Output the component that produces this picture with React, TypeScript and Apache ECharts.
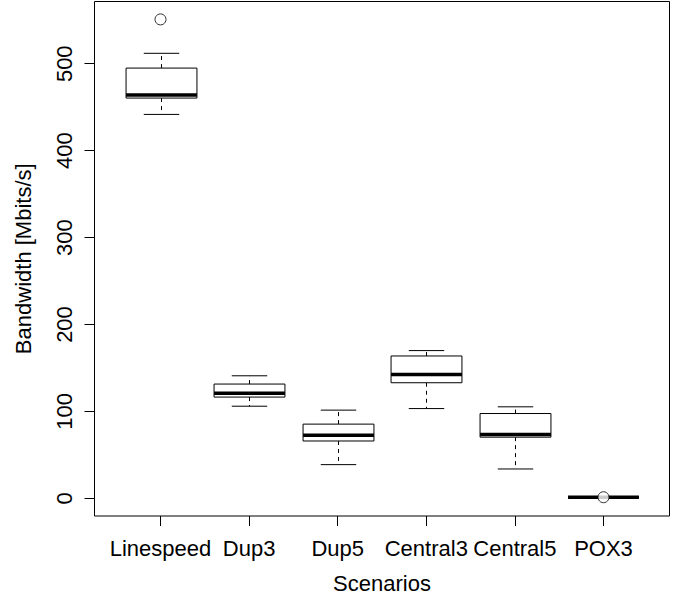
import React, { useEffect, useRef } from "react";
import * as echarts from "echarts";

const categories = ["Linespeed", "Dup3", "Dup5", "Central3", "Central5", "POX3"];
// [lower whisker, Q1, median, Q3, upper whisker]
const lowerWhisker = [441.7, 106, 38.8, 103.3, 33.8, 1.0];
const q1 = [460.5, 116.5, 66, 133, 70.4, 1.2];
const median = [464, 121, 72.7, 142.6, 73.4, 1.2];
const q3 = [495, 131.5, 85.4, 163.8, 97.6, 1.3];
const upperWhisker = [512, 141, 101.5, 170, 105.3, 1.4];
const outlierCategory = [0, 5];
const outlierValue = [551, 1.3];
const yTicks = [0, 100, 200, 300, 400, 500];

const FONT = "'Liberation Sans', Arial, Helvetica, sans-serif";

export default function App() {
  const ref = useRef<HTMLDivElement>(null);
  useEffect(() => {
    if (!ref.current) return;
    const chart = echarts.init(ref.current, null, { renderer: "svg" });
    const boxData = categories.map((_, i) => [
      i,
      lowerWhisker[i],
      q1[i],
      median[i],
      q3[i],
      upperWhisker[i],
    ]);
    const outliers = outlierCategory.map((c, i) => [c, outlierValue[i]]);
    chart.setOption({
      animation: false,
      backgroundColor: "#fff",
      textStyle: { fontFamily: FONT },
      grid: { left: 116.2, right: 26.2, top: 1.5, bottom: 84 },
      xAxis: {
        type: "category",
        data: categories,
        name: "Scenarios",
        nameLocation: "middle",
        nameGap: 56,
        nameTextStyle: { fontSize: 22, color: "#000", fontFamily: FONT },
        axisLine: { show: false, onZero: false },
        axisTick: { show: true, alignWithLabel: true, length: 10, lineStyle: { color: "#000", width: 1 } },
        axisLabel: { fontSize: 22, color: "#000", margin: 21, fontFamily: FONT, interval: 0 },
        splitLine: { show: false },
      },
      yAxis: {
        type: "value",
        min: -20.3,
        max: 571.6,
        offset: 21.7,
        name: "Bandwidth [Mbits/s]",
        nameLocation: "middle",
        nameRotate: 90,
        nameGap: 60,
        nameTextStyle: { fontSize: 22, color: "#000", fontFamily: FONT },
        axisLine: { show: false, onZero: false },
        axisTick: { show: true, length: 10, customValues: yTicks, lineStyle: { color: "#000", width: 1 } },
        axisLabel: { fontSize: 22, color: "#000", rotate: 90, margin: 19, customValues: yTicks, fontFamily: FONT },
        splitLine: { show: false },
      },
      graphic: [
        {
          type: "rect",
          shape: { x: 94.5, y: 1.5, width: 575, height: 514.5 },
          style: { fill: "none", stroke: "#000", lineWidth: 1 },
          z: 100,
          silent: true,
        },
      ],
      series: [
        {
          type: "custom",
          data: boxData,
          encode: { x: 0, y: [1, 2, 3, 4, 5] },
          renderItem: (params: any, api: any) => {
            const idx = api.value(0);
            const band = api.size([1, 0])[0];
            const boxW = band * 0.8;
            const capW = boxW / 2;
            const pMin = api.coord([idx, api.value(1)]);
            const pQ1 = api.coord([idx, api.value(2)]);
            const pMed = api.coord([idx, api.value(3)]);
            const pQ3 = api.coord([idx, api.value(4)]);
            const pMax = api.coord([idx, api.value(5)]);
            const cx = Math.round(pMin[0]) + 0.5;
            const lineStyle = { stroke: "#000", lineWidth: 1 };
            return {
              type: "group",
              children: [
                {
                  type: "line",
                  shape: { x1: cx, y1: pQ3[1], x2: cx, y2: pMax[1] },
                  style: { ...lineStyle, lineDash: [4, 4] },
                },
                {
                  type: "line",
                  shape: { x1: cx, y1: pQ1[1], x2: cx, y2: pMin[1] },
                  style: { ...lineStyle, lineDash: [4, 4] },
                },
                {
                  type: "line",
                  shape: { x1: cx - capW / 2, y1: pMax[1], x2: cx + capW / 2, y2: pMax[1] },
                  style: lineStyle,
                },
                {
                  type: "line",
                  shape: { x1: cx - capW / 2, y1: pMin[1], x2: cx + capW / 2, y2: pMin[1] },
                  style: lineStyle,
                },
                {
                  type: "rect",
                  shape: { x: cx - boxW / 2, y: pQ3[1], width: boxW, height: pQ1[1] - pQ3[1] },
                  style: { fill: "#fff", stroke: "#000", lineWidth: 1 },
                },
                {
                  type: "line",
                  shape: { x1: cx - boxW / 2, y1: pMed[1], x2: cx + boxW / 2, y2: pMed[1] },
                  style: { stroke: "#000", lineWidth: 3.5 },
                },
              ],
            };
          },
          z: 2,
        },
        {
          type: "scatter",
          data: outliers,
          symbol: "circle",
          symbolSize: 11,
          itemStyle: { color: "#fff", borderColor: "#000", borderWidth: 1 },
          z: 5,
        },
      ],
    });
    return () => chart.dispose();
  }, []);
  return (
    <div
      ref={ref}
      style={{ position: "absolute", left: 0, top: 0, width: 674, height: 600 }}
    />
  );
}
